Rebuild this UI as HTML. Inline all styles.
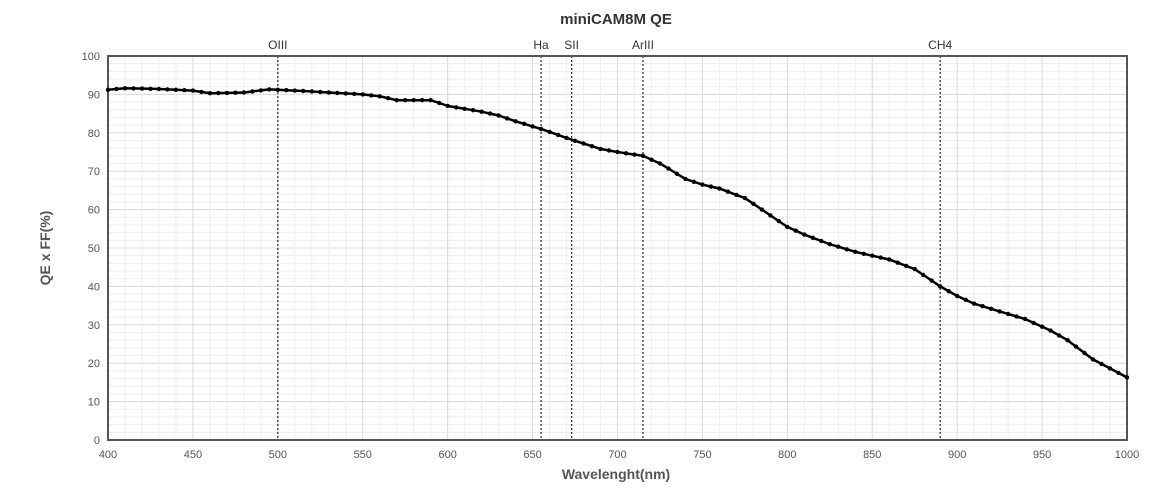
<!DOCTYPE html><html><head><style>body{margin:0;background:#fff}</style></head><body>
<svg id="s" width="1163" height="492" xmlns="http://www.w3.org/2000/svg" font-family="Liberation Sans, sans-serif"></svg>
<script>
const s=document.getElementById('s');let h='';
const X=w=>108+(w-400)*1019/600, Y=v=>440-v*3.84;
h+='<text x="616" y="24" text-anchor="middle" font-size="15" font-weight="bold" fill="#333">miniCAM8M QE</text>';
for(let v=0;v<=100;v+=2){const maj=v%10==0;h+=`<line x1="108" x2="1127" y1="${Y(v)}" y2="${Y(v)}" stroke="${maj?'#d8d8d8':'#eeeeee'}" stroke-width="1"/>`;
if(maj)h+=`<text x="100" y="${Y(v)+4}" text-anchor="end" font-size="11" fill="#555">${v}</text>`;}
for(let w=400;w<=1000;w+=10){const maj=w%50==0;h+=`<line y1="56" y2="440" x1="${X(w)}" x2="${X(w)}" stroke="${maj?'#d8d8d8':'#eeeeee'}"/>`;
if(maj)h+=`<text x="${X(w)}" y="458" text-anchor="middle" font-size="11" fill="#555">${w}</text>`;}
[[500,'OIII'],[655,'Ha'],[673,'SII'],[715,'ArIII'],[890,'CH4']].forEach(([w,t])=>{h+=`<line x1="${X(w)}" x2="${X(w)}" y1="56" y2="440" stroke="#333" stroke-width="1.3" stroke-dasharray="2,2"/><text x="${X(w)}" y="49" text-anchor="middle" font-size="12" fill="#333">${t}</text>`;});
h+='<rect x="108" y="56" width="1019" height="384" fill="none" stroke="#555" stroke-width="2"/>';
const d=[[400,91.2],[410,91.6],[430,91.4],[450,91],[460,90.3],[480,90.5],[495,91.3],[510,91],[530,90.5],[550,90],[560,89.5],[570,88.5],[590,88.5],[600,87],[620,85.5],[630,84.5],[640,83],[655,81],[673,78.2],[690,75.8],[700,75],[715,74],[725,72],[740,68],[750,66.5],[760,65.5],[775,63],[785,60],[800,55.5],[810,53.5],[825,51],[840,49],[860,47],[875,44.5],[890,40],[900,37.5],[910,35.5],[925,33.5],[940,31.5],[955,28.5],[965,26],[980,21],[1000,16.3]];
function f(w){for(let i=0;i<d.length-1;i++){if(w<=d[i+1][0]){const t=(w-d[i][0])/(d[i+1][0]-d[i][0]);return d[i][1]+t*(d[i+1][1]-d[i][1]);}}return d[d.length-1][1];}
let p='',c='';for(let w=400;w<=1000;w+=5){const x=X(w),y=Y(f(w));p+=(w==400?'M':'L')+x.toFixed(1)+','+y.toFixed(1);c+=`<circle cx="${x.toFixed(1)}" cy="${y.toFixed(1)}" r="2.2" fill="#000"/>`;}
h+=`<path d="${p}" fill="none" stroke="#000" stroke-width="2.5"/>`+c;
h+='<text x="616" y="479" text-anchor="middle" font-size="14" font-weight="bold" fill="#555">Wavelenght(nm)</text>';
h+='<text transform="translate(50,248) rotate(-90)" text-anchor="middle" font-size="14" font-weight="bold" fill="#555">QE x FF(%)</text>';
s.innerHTML=h;
</script></body></html>
